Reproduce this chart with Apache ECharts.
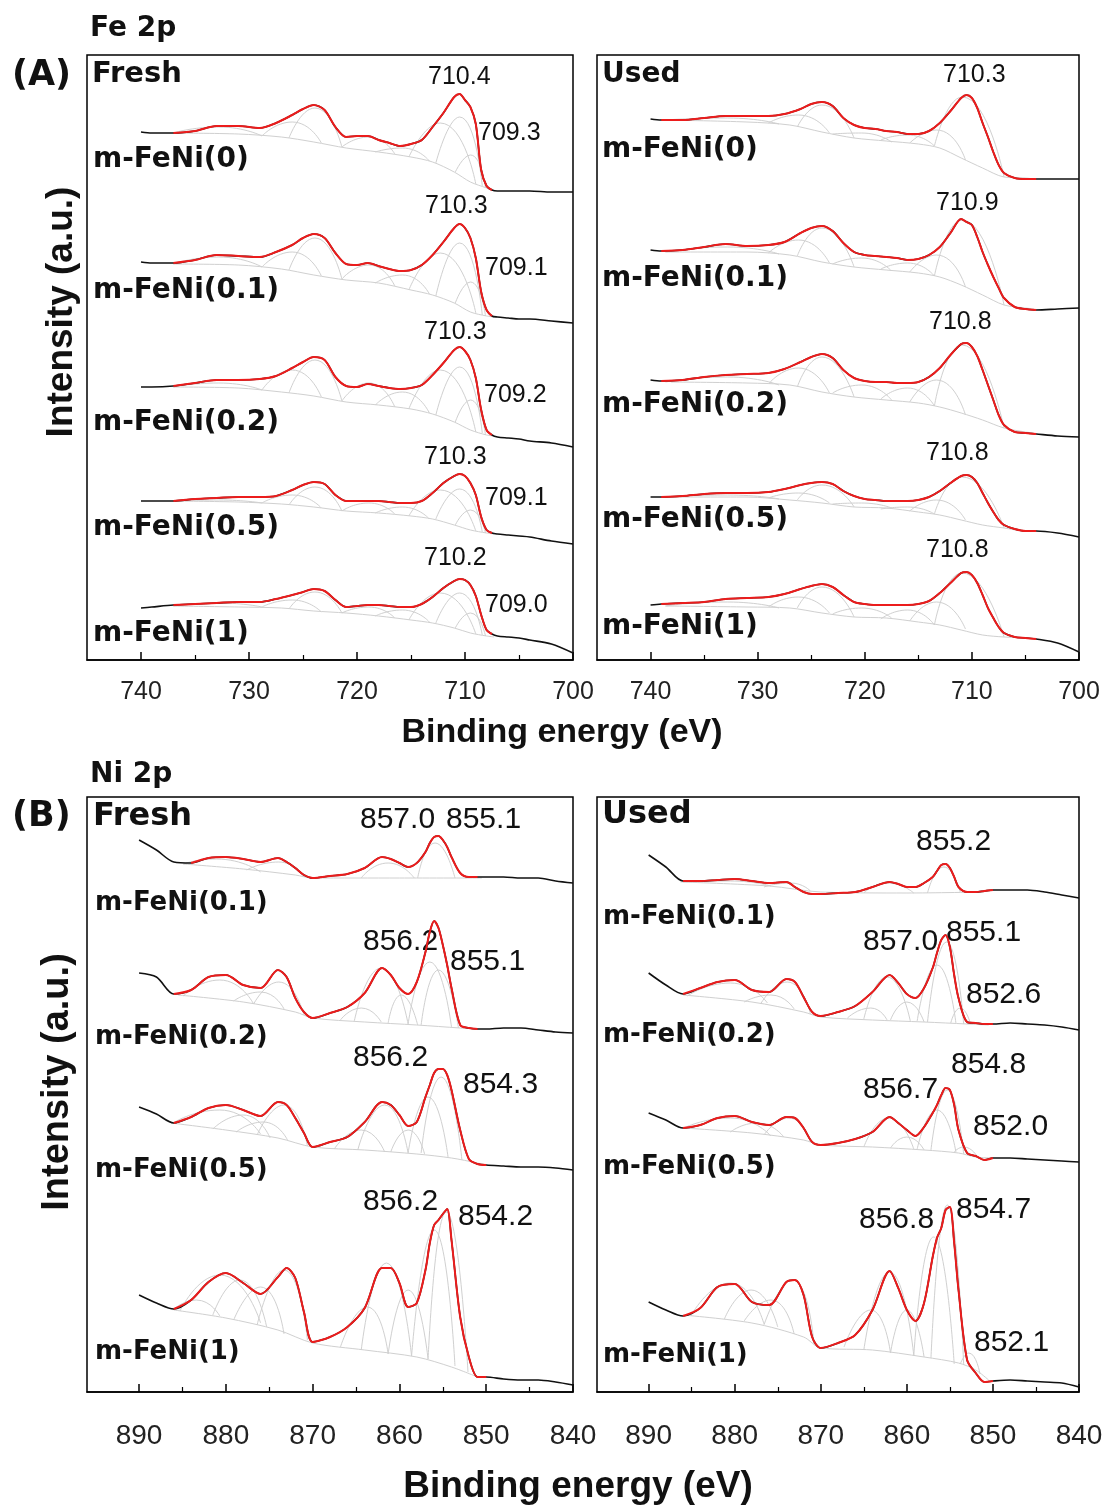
<!DOCTYPE html>
<html>
<head>
<meta charset="utf-8">
<script src="https://cdn.jsdelivr.net/npm/echarts@6/dist/echarts.min.js"></script>
<style>
html, body { margin: 0; padding: 0; background: #fff; }
#Mycharts { width: 1107px; height: 1510px; }
</style>
</head>
<body>
<div id="Mycharts"></div>
<script>
// binding energy grids (eV), values are intensities in a.u. (offset stacked)
const feEnergy = [740, 739, 737, 735, 733, 731, 729, 727.5, 726, 725, 724, 723, 722, 721, 720, 719, 718, 717, 716, 715, 714, 713, 712, 711, 710.5, 710, 709.5, 709, 708.5, 708, 707.5, 707, 706, 705, 704, 702, 700]
const niEnergy = [890, 888, 886, 884, 882, 880, 878, 876, 874, 873, 872, 871, 870, 868, 866, 864, 862, 861, 860, 859, 858, 857, 856.5, 856, 855.5, 855, 854.5, 854, 853, 852, 851, 850, 848, 846, 844, 842, 840]

const feTicks = [700, 710, 720, 730, 740]
const feMinor = [705, 715, 725, 735]
const niTicks = [840, 850, 860, 870, 880, 890]
const niMinor = [845, 855, 865, 875, 885]

// Fe 2p fresh
const feFresh0 = [528, 527, 527, 529, 534, 534, 532, 537, 545, 551, 555, 550, 533, 523, 524, 524, 520, 517, 514, 516, 520, 533, 547, 563, 566, 560, 553, 536, 490, 474, 470, 469, 469, 469, 469, 468, 468]
const feFresh01 = [398, 397, 397, 400, 405, 404, 403, 408, 415, 422, 426, 422, 407, 396, 395, 397, 394, 391, 389, 390, 395, 405, 418, 432, 436, 432, 422, 402, 368, 350, 344, 343, 342, 341, 341, 339, 337]
const feFresh02 = [273, 273, 274, 277, 280, 280, 281, 284, 292, 298, 303, 300, 283, 274, 273, 276, 274, 272, 271, 272, 275, 285, 297, 310, 313, 309, 300, 282, 250, 230, 225, 223, 222, 221, 219, 217, 213]
const feFresh05 = [159, 159, 159, 161, 162, 163, 163, 164, 170, 175, 178, 176, 165, 159, 159, 159, 159, 158, 157, 157, 159, 167, 177, 184, 186, 184, 177, 165, 143, 130, 127, 126, 125, 124, 123, 119, 116]
const feFresh1 = [52, 53, 55, 56, 57, 58, 58, 61, 65, 68, 71, 69, 60, 53, 54, 55, 55, 54, 53, 53, 56, 63, 72, 79, 81, 80, 75, 64, 45, 30, 26, 24, 23, 22, 20, 16, 7]
// Fe 2p used
const feUsed0 = [541, 540, 540, 542, 544, 544, 544, 546, 551, 556, 558, 554, 542, 535, 532, 531, 529, 528, 526, 526, 529, 537, 549, 562, 565, 562, 552, 537, 523, 508, 495, 487, 482, 481, 481, 481, 481]
const feUsed01 = [410, 409, 410, 413, 416, 414, 415, 418, 427, 432, 434, 429, 417, 408, 405, 404, 403, 402, 400, 401, 405, 413, 427, 441, 438, 435, 423, 408, 395, 383, 372, 362, 353, 351, 350, 351, 352]
const feUsed02 = [280, 279, 280, 283, 285, 286, 287, 291, 298, 303, 306, 302, 290, 282, 279, 278, 278, 277, 277, 278, 283, 292, 305, 316, 317, 313, 304, 290, 275, 260, 245, 235, 228, 227, 226, 224, 223]
const feUsed05 = [163, 163, 164, 166, 167, 167, 168, 171, 175, 177, 178, 176, 169, 164, 161, 160, 159, 159, 159, 160, 163, 169, 177, 184, 185, 183, 177, 167, 157, 148, 140, 135, 131, 129, 129, 127, 123]
const feUsed1 = [55, 56, 57, 58, 61, 62, 63, 66, 71, 74, 76, 73, 65, 58, 56, 55, 55, 55, 55, 56, 59, 67, 77, 87, 88, 85, 77, 65, 52, 42, 33, 27, 23, 22, 21, 17, 8]

// Ni 2p fresh
const niFresh01 = [552, 542, 530, 529, 534, 535, 533, 530, 534, 530, 524, 517, 514, 516, 518, 524, 535, 533, 529, 525, 529, 540, 549, 555, 556, 552, 545, 535, 519, 515, 515, 515, 515, 514, 514, 511, 509]
const niFresh02 = [419, 415, 398, 402, 415, 417, 407, 404, 422, 415, 394, 380, 374, 379, 385, 399, 424, 417, 404, 398, 410, 440, 460, 471, 464, 447, 427, 404, 367, 364, 363, 363, 364, 364, 362, 360, 359]
const niFresh05 = [285, 278, 269, 275, 284, 287, 282, 276, 290, 287, 274, 259, 245, 250, 255, 270, 290, 287, 277, 266, 270, 295, 307, 319, 323, 323, 317, 302, 262, 233, 228, 227, 226, 225, 225, 224, 222]
const niFresh1 = [97, 89, 83, 92, 110, 119, 109, 98, 115, 124, 114, 80, 50, 55, 65, 84, 124, 124, 109, 85, 89, 122, 149, 167, 172, 178, 183, 152, 75, 35, 15, 15, 13, 12, 12, 10, 7]
// Ni 2p used
const niUsed01 = [537, 525, 511, 511, 512, 513, 511, 509, 510, 505, 500, 498, 498, 499, 500, 505, 510, 508, 505, 505, 509, 515, 521, 527, 528, 524, 515, 505, 500, 500, 501, 502, 502, 502, 500, 497, 494]
const niUsed02 = [419, 407, 398, 404, 410, 412, 402, 400, 413, 410, 395, 380, 376, 380, 386, 400, 417, 409, 398, 394, 404, 424, 439, 452, 457, 445, 417, 394, 370, 369, 368, 368, 369, 368, 367, 365, 362]
const niUsed05 = [279, 272, 264, 267, 274, 276, 270, 267, 275, 274, 264, 250, 247, 249, 253, 260, 275, 269, 262, 256, 265, 279, 287, 297, 304, 302, 287, 262, 239, 236, 232, 234, 234, 233, 232, 231, 230]
const niUsed1 = [90, 82, 76, 84, 105, 108, 90, 87, 110, 112, 97, 55, 44, 49, 57, 82, 121, 104, 82, 71, 89, 135, 154, 164, 182, 185, 149, 102, 32, 19, 10, 11, 12, 11, 10, 9, 5]

// fit windows [low, high] eV
const feFreshFit = [[707.5, 737], [707.5, 737], [707.5, 737], [707.5, 737], [707.5, 737]]
const feUsedFit = [[704, 739], [704, 739], [704, 739], [704, 739], [704, 739]]
const niFreshFit = [[851, 884], [851, 886], [850, 886], [850, 886]]
const niUsedFit = [[850, 886], [850, 886], [850, 886], [850, 886]]

// backgrounds [E, I]
const feFresh0Bg = [[737, 527], [731, 526], [727, 523], [724, 518], [721, 512], [718, 508], [715, 503], [713, 498], [711, 488], [709.5, 478], [708, 472], [707.3, 469]]
const feFresh01Bg = [[737, 396], [731, 395], [727, 391], [724, 385], [721, 380], [718, 377], [715, 370], [713, 365], [711, 357], [709.5, 348], [708, 344], [707.3, 343]]
const feFresh02Bg = [[737, 273], [731, 272], [727, 268], [724, 264], [721, 258], [718, 255], [715, 251], [713, 246], [711, 238], [709.5, 230], [708, 225], [707.3, 224]]
const feFresh05Bg = [[737, 159], [731, 158], [727, 156], [724, 153], [721, 149], [718, 147], [715, 144], [713, 141], [711, 135], [709.5, 130], [708, 127], [707.3, 126]]
const feFresh1Bg = [[737, 54], [731, 53], [727, 52], [724, 49], [721, 47], [718, 44], [715, 40], [713, 37], [711, 32], [709.5, 27], [708, 24], [707.3, 23]]
const feUsed0Bg = [[738.6, 540], [731, 538], [727, 535], [724, 528], [721, 522], [718, 519], [715, 516], [713, 512], [711, 502], [709, 492], [707, 483], [705, 482], [704.2, 481]]
const feUsed01Bg = [[738.6, 408], [731, 408], [727, 405], [724, 398], [721, 393], [718, 390], [715, 387], [713, 383], [711, 375], [709, 365], [707, 355], [705, 352], [704.2, 351]]
const feUsed02Bg = [[738.1, 278], [731, 277], [727, 275], [724, 268], [721, 263], [718, 260], [715, 257], [713, 253], [711, 247], [709, 240], [707, 232], [705, 228], [704.2, 227]]
const feUsed05Bg = [[738.6, 163], [731, 163], [727, 160], [724, 157], [721, 153], [718, 152], [715, 148], [713, 145], [711, 140], [709, 135], [707, 132], [705, 129], [704.2, 129]]
const feUsed1Bg = [[738.6, 54], [731, 53], [727, 52], [724, 47], [721, 43], [718, 42], [715, 38], [713, 35], [711, 30], [709, 25], [707, 23], [705, 22], [704.2, 21]]
const niFresh01Bg = [[884.9, 528], [878, 523], [872, 517], [870, 514], [860, 514], [850.5, 514]]
const niFresh02Bg = [[885.5, 397], [878, 390], [872, 380], [870, 374], [864, 370], [858, 367], [853, 364], [851, 363]]
const niFresh05Bg = [[886.3, 269], [880, 262], [874, 254], [870, 245], [864, 242], [858, 238], [854, 234], [851, 229], [850, 227]]
const niFresh1Bg = [[886, 82], [880, 74], [874, 62], [870, 49], [864, 42], [858, 35], [854, 25], [851, 15]]
const niUsed01Bg = [[886, 510], [876, 506], [870, 500], [860, 499], [851, 500]]
const niUsed02Bg = [[886, 397], [878, 390], [872, 380], [870, 375], [864, 372], [858, 370], [853, 368], [850.5, 367]]
const niUsed05Bg = [[886, 264], [878, 259], [872, 252], [870, 247], [864, 245], [858, 242], [854, 239], [852, 235], [850, 234]]
const niUsed1Bg = [[886, 77], [878, 69], [872, 55], [870, 44], [864, 42], [858, 35], [854, 29], [852, 22], [850.5, 12]]

// fitted components: [E left, I left, E apex, I apex, E right, I right]
const feFresh0Peaks = [[712.7, 497, 710.5, 543, 708.4, 474], [715.2, 503, 712.3, 537, 709, 476], [710.9, 488, 709.5, 505, 708.1, 472], [718.3, 508, 715.8, 512, 713.3, 499], [721.4, 513, 718.9, 523, 716.5, 506], [726.3, 522, 723.9, 552, 721.4, 513], [728.8, 524, 726, 538, 723.3, 517], [737, 527, 732.8, 533, 728.8, 524]]
const feFresh01Peaks = [[712.7, 364, 710.5, 417, 708.4, 345], [715.2, 370, 712.3, 407, 709, 347], [710.9, 357, 709.5, 378, 708.1, 344], [718.3, 377, 715.8, 385, 713.3, 366], [721.4, 381, 718.9, 395, 716.5, 374], [726.3, 390, 723.9, 422, 721.4, 381], [728.8, 393, 726, 408, 723.3, 384], [737, 396, 732.8, 403, 728.8, 393]]
const feFresh02Peaks = [[712.7, 245, 710.5, 293, 708.4, 227], [715.2, 251, 712.3, 290, 709, 228], [710.9, 238, 709.5, 260, 708.1, 225], [718.3, 255, 715.8, 268, 713.3, 247], [721.4, 259, 718.9, 277, 716.5, 253], [726.3, 267, 723.9, 300, 721.4, 259], [728.8, 270, 726, 290, 723.3, 263], [737, 273, 732.8, 277, 728.8, 270]]
const feFresh05Peaks = [[712.7, 141, 710.5, 171, 708.4, 128], [715.2, 144, 712.3, 170, 709, 129], [710.9, 135, 709.5, 150, 708.1, 127], [718.3, 147, 715.8, 153, 713.3, 141], [721.4, 149, 718.9, 157, 716.5, 146], [726.3, 155, 723.9, 173, 721.4, 149], [728.8, 157, 726, 165, 723.3, 152], [737, 159, 732.8, 160, 728.8, 157]]
const feFresh1Peaks = [[712.7, 37, 710.5, 67, 708.4, 25], [715.2, 40, 712.3, 67, 709, 26], [710.9, 32, 709.5, 47, 708.1, 24], [718.3, 44, 715.8, 50, 713.3, 38], [721.4, 47, 718.9, 53, 716.5, 42], [726.3, 51, 723.9, 68, 721.4, 47], [728.8, 53, 726, 60, 723.3, 48], [737, 54, 732.8, 57, 728.8, 53]]
const feUsed0Peaks = [[713.5, 514, 710.9, 563, 707, 483], [715.8, 517, 713.3, 530, 710.6, 500], [718.5, 520, 716, 525, 713.5, 514], [723, 526, 720.3, 527, 717.5, 518], [726.3, 533, 724, 555, 721, 522], [729, 537, 726.2, 545, 723.3, 527], [738.6, 540, 732.8, 542, 728, 536]]
const feUsed01Peaks = [[713.5, 384, 710.9, 440, 707, 355], [715.8, 388, 713.3, 405, 710.6, 373], [718.5, 391, 716, 397, 713.5, 384], [723, 396, 720.3, 402, 717.5, 389], [726.3, 404, 724, 432, 721, 393], [729, 407, 726.2, 420, 723.3, 397], [738.6, 408, 732.8, 413, 728, 406]]
const feUsed02Peaks = [[713.5, 254, 710.9, 315, 707, 232], [715.8, 258, 713.3, 280, 710.6, 245], [718.5, 261, 716, 272, 713.5, 254], [723, 267, 720.3, 275, 717.5, 260], [726.3, 273, 724, 303, 721, 263], [729, 276, 726.2, 292, 723.3, 267], [738.6, 278, 732.8, 283, 728, 275]]
const feUsed05Peaks = [[713.5, 146, 710.9, 183, 707, 132], [715.8, 149, 713.3, 160, 710.6, 140], [718.5, 151, 716, 153, 713.5, 146], [723, 156, 720.3, 157, 717.5, 152], [726.3, 160, 724, 175, 721, 153], [729, 162, 726.2, 167, 723.3, 157], [738.6, 163, 732.8, 165, 728, 161]]
const feUsed1Peaks = [[713.5, 35, 710.9, 87, 707, 23], [715.8, 39, 713.3, 58, 710.6, 31], [718.5, 41, 716, 50, 713.5, 35], [723, 46, 720.3, 52, 717.5, 42], [726.3, 52, 724, 73, 721, 43], [729, 53, 726.2, 63, 723.3, 47], [738.6, 54, 732.8, 58, 728, 52]]
const niFresh01Peaks = [[857.9, 514, 855.9, 549, 853.6, 514], [864.4, 514, 861.3, 529, 858.3, 514], [877.6, 522, 873.9, 530, 871, 515], [884.9, 528, 881.1, 533, 876, 520]]
const niFresh02Peaks = [[859, 368, 856.5, 430, 854, 365], [857.5, 367, 855.5, 422, 853.2, 364], [865.2, 371, 862.1, 424, 859, 368], [861.3, 369, 859.8, 397, 857.9, 367], [866.8, 372, 864.4, 384, 862.1, 370], [876.8, 388, 873.9, 410, 871, 377], [879.1, 391, 876, 400, 873.3, 383], [884.9, 396, 880.7, 412, 876.8, 388]]
const niFresh05Peaks = [[857.5, 239, 855.2, 315, 852.8, 232], [859, 239, 856.7, 295, 854.4, 235], [861, 240, 859, 262, 857.1, 238], [864.8, 242, 861.7, 287, 859, 239], [867.5, 243, 864.4, 262, 861.7, 240], [876.4, 257, 873.3, 287, 870.6, 246], [878.8, 260, 875.7, 270, 872.9, 252], [881.5, 263, 878, 277, 874.9, 254], [886.1, 269, 880.7, 282, 876, 258]]
const niFresh1Peaks = [[856.7, 33, 854.6, 180, 852.1, 20], [858.6, 36, 856, 162, 853.6, 26], [861.3, 38, 859, 102, 856.7, 33], [864.4, 42, 861.5, 129, 858.6, 36], [866.8, 45, 863.7, 85, 861.3, 38], [876.4, 67, 873.3, 122, 870.6, 52], [879.1, 72, 876, 105, 873.3, 58], [881.5, 77, 878.4, 112, 875.3, 65], [885.3, 81, 880.7, 117, 876, 69], [886.1, 82, 883.4, 92, 880.7, 76]]
const niUsed01Peaks = [[857.6, 499, 855.7, 525, 853.8, 500], [865, 499, 862.3, 509, 859.2, 499], [876.6, 505, 873.5, 509, 871.2, 501], [886.3, 510, 880.5, 511, 875.8, 506]]
const niUsed02Peaks = [[857.6, 370, 855.4, 450, 853.4, 368], [858.8, 371, 856.5, 427, 854.3, 369], [854.9, 369, 853.8, 384, 852.6, 368], [865, 373, 862.3, 415, 859.6, 371], [861.9, 372, 860, 390, 858, 370], [866.9, 374, 864.2, 384, 862.3, 372], [877, 388, 873.9, 410, 871.2, 378], [878.9, 390, 875.8, 397, 873.1, 383], [885.5, 396, 880.5, 409, 876.2, 389]]
const niUsed05Peaks = [[857.2, 242, 855.3, 302, 853.4, 238], [858.8, 243, 856.5, 282, 854.3, 240], [854.5, 240, 853.4, 245, 851.8, 235], [865, 245, 862.1, 274, 859.2, 243], [861.9, 244, 860, 255, 858, 242], [876.6, 257, 873.7, 274, 871.2, 250], [885.9, 264, 880.5, 274, 875.8, 256], [880.5, 260, 877.4, 269, 874.3, 255]]
const niUsed1Peaks = [[857.2, 34, 855.3, 187, 853.4, 27], [859.2, 36, 856.9, 155, 854.5, 28], [853.8, 28, 852.8, 39, 851.5, 18], [865, 42, 862, 120, 859.2, 37], [861.9, 39, 860, 82, 858, 35], [867.3, 45, 864.2, 82, 861.9, 39], [876.6, 67, 873.3, 112, 870.8, 48], [878.9, 71, 875.8, 92, 873.1, 58], [885.1, 76, 880.5, 109, 876.6, 68], [881.2, 73, 878.1, 102, 875, 65]]

const feSamples = ['m-FeNi(0)', 'm-FeNi(0.1)', 'm-FeNi(0.2)', 'm-FeNi(0.5)', 'm-FeNi(1)']
const niSamples = ['m-FeNi(0.1)', 'm-FeNi(0.2)', 'm-FeNi(0.5)', 'm-FeNi(1)']

let Mycharts = echarts.init(document.getElementById('Mycharts'), null, { renderer: 'canvas' })

const GRAY = '#d0d0d0'
const RED = '#ec1c1c'
const INK = '#111'

function panelSeries (g, energy, spectra, fits, bgs, peaks) {
  const out = []
  const base = { type: 'line', xAxisIndex: g * 2, yAxisIndex: g, symbol: 'none', silent: true, animation: false }
  spectra.forEach((vals, i) => {
    const pts = energy.map((e, k) => [e, vals[k]])
    // background and fitted components
    out.push(Object.assign({}, base, { z: 1, smooth: 0.3, data: bgs[i], lineStyle: { color: GRAY, width: 1 } }))
    peaks[i].forEach(p => {
      out.push(Object.assign({}, base, { z: 1, smooth: 0.6, data: [[p[0], p[1]], [p[2], p[3]], [p[4], p[5]]], lineStyle: { color: GRAY, width: 1 } }))
    })
    // measured spectrum, then envelope over the fit window
    out.push(Object.assign({}, base, { z: 2, smooth: 0.3, data: pts, lineStyle: { color: INK, width: 1.6 } }))
    const fit = pts.filter(p => p[0] >= fits[i][0] && p[0] <= fits[i][1])
    out.push(Object.assign({}, base, { z: 3, smooth: 0.3, data: fit, lineStyle: { color: RED, width: 2 } }))
  })
  return out
}

function xAxes (g, min, max, majors, minors, fontSize, margin) {
  return [
    {
      gridIndex: g, type: 'value', inverse: true, min: min, max: max, interval: 10,
      axisLine: { onZero: false, lineStyle: { color: '#000', width: 1.5 } },
      axisTick: { inside: true, length: 8, customValues: majors, lineStyle: { color: '#000', width: 1.5 } },
      axisLabel: { customValues: majors, fontSize: fontSize, margin: margin, color: '#222', fontFamily: 'Liberation Sans' },
      splitLine: { show: false }
    },
    {
      gridIndex: g, type: 'value', inverse: true, min: min, max: max, position: 'bottom',
      axisLine: { show: false },
      axisTick: { inside: true, length: 5, customValues: minors, lineStyle: { color: '#000', width: 1.2 } },
      axisLabel: { show: false },
      splitLine: { show: false }
    }
  ]
}

function txt (text, x, y, font, align) {
  return { type: 'text', x: x, y: y, silent: true, style: { text: text, font: font, fill: INK, textAlign: align || 'left', textVerticalAlign: 'middle', align: align || 'left', verticalAlign: 'middle' } }
}

const LBL = 'bold 28px "DejaVu Sans"'
const LBLB = 'bold 26px "DejaVu Sans"'
const NUM = '25px "Liberation Sans"'
const NUMB = '30px "Liberation Sans"'

const texts = [
  txt('Fe 2p', 90, 29, 'bold 28px "DejaVu Sans"'),
  txt('(A)', 12, 76, 'bold 35px "DejaVu Sans"'),
  txt('Ni 2p', 90, 775, 'bold 28px "DejaVu Sans"'),
  txt('(B)', 12, 817, 'bold 35px "DejaVu Sans"'),
  txt('Fresh', 92, 74, 'bold 29px "DejaVu Sans"'),
  txt('Used', 602, 75, 'bold 28px "DejaVu Sans"'),
  txt('Fresh', 93, 817, 'bold 32px "DejaVu Sans"'),
  txt('Used', 602, 815, 'bold 32px "DejaVu Sans"'),
  // Fe fresh peaks
  txt('710.4', 428, 77, NUM), txt('709.3', 478, 133, NUM),
  txt('710.3', 425, 206, NUM), txt('709.1', 485, 268, NUM),
  txt('710.3', 424, 332, NUM), txt('709.2', 484, 395, NUM),
  txt('710.3', 424, 457, NUM), txt('709.1', 485, 498, NUM),
  txt('710.2', 424, 558, NUM), txt('709.0', 485, 605, NUM),
  // Fe used peaks
  txt('710.3', 943, 75, NUM), txt('710.9', 936, 203, NUM), txt('710.8', 929, 322, NUM),
  txt('710.8', 926, 453, NUM), txt('710.8', 926, 550, NUM),
  // Ni fresh peaks
  txt('857.0', 360, 820, NUMB), txt('855.1', 446, 820, NUMB),
  txt('856.2', 363, 942, NUMB), txt('855.1', 450, 962, NUMB),
  txt('856.2', 353, 1058, NUMB), txt('854.3', 463, 1085, NUMB),
  txt('856.2', 363, 1202, NUMB), txt('854.2', 458, 1217, NUMB),
  // Ni used peaks
  txt('855.2', 916, 842, NUMB), txt('857.0', 863, 942, NUMB), txt('855.1', 946, 933, NUMB),
  txt('852.6', 966, 995, NUMB), txt('854.8', 951, 1065, NUMB), txt('856.7', 863, 1090, NUMB),
  txt('852.0', 973, 1127, NUMB), txt('854.7', 956, 1210, NUMB), txt('856.8', 859, 1220, NUMB),
  txt('852.1', 974, 1343, NUMB),
  // axis names
  txt('Binding energy (eV)', 562, 733, 'bold 34px "Liberation Sans"', 'center'),
  txt('Binding energy (eV)', 578, 1487, 'bold 37px "Liberation Sans"', 'center'),
  Object.assign(txt('Intensity (a.u.)', 62, 312, 'bold 37px "Liberation Sans"', 'center'), { rotation: Math.PI / 2 }),
  Object.assign(txt('Intensity (a.u.)', 58, 1082, 'bold 38px "Liberation Sans"', 'center'), { rotation: Math.PI / 2 })
]
const feFreshY = [160, 291, 423, 528, 634]
const feUsedY = [150, 279, 405, 520, 627]
const niFreshY = [903, 1037, 1170, 1352]
const niUsedY = [917, 1035, 1167, 1355]
feSamples.forEach((s, i) => { texts.push(txt(s, 93, feFreshY[i], LBL)); texts.push(txt(s, 602, feUsedY[i], LBL)) })
niSamples.forEach((s, i) => { texts.push(txt(s, 95, niFreshY[i], LBLB)); texts.push(txt(s, 603, niUsedY[i], LBLB)) })

const frame = { show: true, borderColor: '#000', borderWidth: 1.5, backgroundColor: 'transparent' }

Mycharts.setOption({
  animation: false,
  backgroundColor: '#fff',
  grid: [
    Object.assign({ left: 87, top: 55, width: 486, height: 605 }, frame),
    Object.assign({ left: 597, top: 55, width: 482, height: 605 }, frame),
    Object.assign({ left: 87, top: 797, width: 486, height: 595 }, frame),
    Object.assign({ left: 597, top: 797, width: 482, height: 595 }, frame)
  ],
  xAxis: [].concat(
    xAxes(0, 700, 745, feTicks, feMinor, 25, 20),
    xAxes(1, 700, 745, feTicks, feMinor, 25, 20),
    xAxes(2, 840, 896, niTicks, niMinor, 28, 30),
    xAxes(3, 840, 896, niTicks, niMinor, 28, 30)
  ),
  yAxis: [
    { gridIndex: 0, type: 'value', min: 0, max: 605, show: false },
    { gridIndex: 1, type: 'value', min: 0, max: 605, show: false },
    { gridIndex: 2, type: 'value', min: 0, max: 595, show: false },
    { gridIndex: 3, type: 'value', min: 0, max: 595, show: false }
  ],
  series: [].concat(
    panelSeries(0, feEnergy, [feFresh0, feFresh01, feFresh02, feFresh05, feFresh1], feFreshFit,
      [feFresh0Bg, feFresh01Bg, feFresh02Bg, feFresh05Bg, feFresh1Bg],
      [feFresh0Peaks, feFresh01Peaks, feFresh02Peaks, feFresh05Peaks, feFresh1Peaks]),
    panelSeries(1, feEnergy, [feUsed0, feUsed01, feUsed02, feUsed05, feUsed1], feUsedFit,
      [feUsed0Bg, feUsed01Bg, feUsed02Bg, feUsed05Bg, feUsed1Bg],
      [feUsed0Peaks, feUsed01Peaks, feUsed02Peaks, feUsed05Peaks, feUsed1Peaks]),
    panelSeries(2, niEnergy, [niFresh01, niFresh02, niFresh05, niFresh1], niFreshFit,
      [niFresh01Bg, niFresh02Bg, niFresh05Bg, niFresh1Bg],
      [niFresh01Peaks, niFresh02Peaks, niFresh05Peaks, niFresh1Peaks]),
    panelSeries(3, niEnergy, [niUsed01, niUsed02, niUsed05, niUsed1], niUsedFit,
      [niUsed01Bg, niUsed02Bg, niUsed05Bg, niUsed1Bg],
      [niUsed01Peaks, niUsed02Peaks, niUsed05Peaks, niUsed1Peaks])
  ),
  graphic: { elements: texts }
})
</script>
</body>
</html>
